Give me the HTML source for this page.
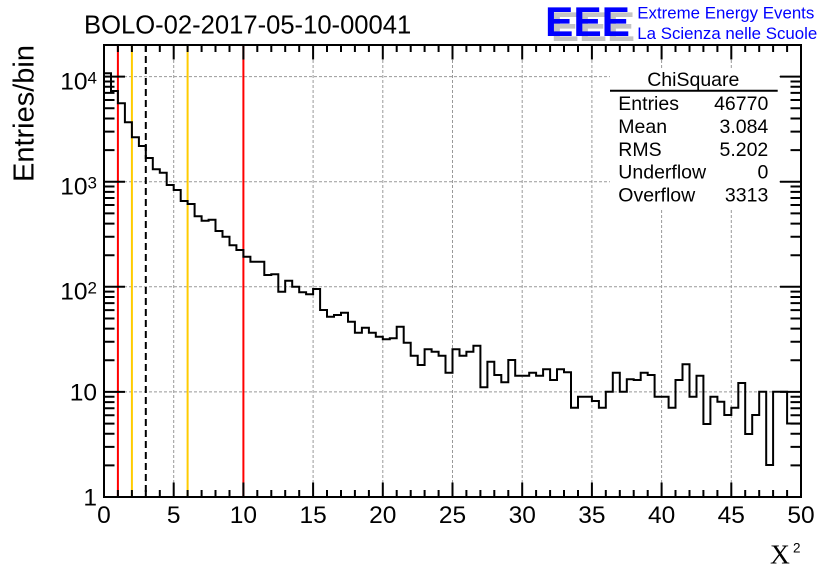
<!DOCTYPE html>
<html><head><meta charset="utf-8"><style>
html,body{margin:0;padding:0;background:#fff;}
svg{display:block;}
text{font-family:"Liberation Sans",Arial,sans-serif;fill:#000;}
</style></head><body>
<svg width="836" height="572" viewBox="0 0 836 572" xmlns="http://www.w3.org/2000/svg">
<rect x="0" y="0" width="836" height="572" fill="#fff"/>

<!-- grid -->
<g stroke="#999" stroke-width="1" stroke-dasharray="3,2" fill="none">
<path d="M173.7 45V497M243.4 45V497M313.1 45V497M382.8 45V497M452.5 45V497M522.2 45V497M591.9 45V497M661.6 45V497M731.3 45V497"/>
<path d="M104 391.9H801M104 286.8H801M104 181.7H801M104 76.6H801"/>
</g>

<!-- stats box background -->
<rect x="610" y="70" width="168" height="140" fill="#fff"/>

<!-- marker lines -->
<g stroke-width="2" fill="none">
<line x1="117.9" y1="45" x2="117.9" y2="497" stroke="#ff0000"/>
<line x1="243.4" y1="45" x2="243.4" y2="497" stroke="#ff0000"/>
<line x1="131.9" y1="45" x2="131.9" y2="497" stroke="#ffcc00"/>
<line x1="187.6" y1="45" x2="187.6" y2="497" stroke="#ffcc00"/>
<line x1="145.8" y1="45" x2="145.8" y2="497" stroke="#000" stroke-dasharray="7,4"/>
</g>

<!-- histogram -->
<path fill="none" stroke="#000" stroke-width="2" d="M104,497 V73.3 H111 V91 H117.9 V103.3 H124.9 V122.3 H131.9 V137.3 H138.9 V146 H145.8 V158 H152.8 V169.3 H159.8 V172.7 H166.7 V185 H173.7 V190 H180.7 V201 H187.6 V204 H194.6 V216.3 H201.6 V220.7 H208.6 V219.7 H215.5 V231 H222.5 V236.7 H229.5 V245.3 H236.4 V250 H243.4 V256.7 H250.4 V261.7 H264.3 V275 H271.3 V274.3 H278.3 V291.7 H285.2 V280.7 H292.2 V286.7 H299.2 V292.3 H306.1 V294.3 H313.1 V289 H320.1 V310 H327 V316.7 H334 V315 H341 V312.7 H348 V321.7 H354.9 V332.7 H361.9 V327.7 H368.9 V332.7 H375.8 V336.7 H382.8 V339.3 H389.8 V338.3 H396.7 V326.7 H403.7 V342.7 H410.7 V355.7 H417.7 V365 H424.6 V349.3 H431.6 V351.7 H438.6 V355.7 H445.5 V372.7 H452.5 V349.3 H459.5 V355.7 H466.4 V351.7 H473.4 V345.7 H480.4 V387.3 H487.4 V361.7 H494.3 V375 H501.3 V382.3 H508.3 V360 H515.2 V375.7 H529.2 V372.7 H536.1 V375.7 H543.1 V369.3 H550.1 V380 H557 V369.3 H564 V372.3 H571 V407.7 H578 V396.7 H591.9 V401 H598.9 V407.7 H605.8 V391.7 H612.8 V372.7 H619.8 V391.7 H626.8 V379.3 H633.7 V380 H640.7 V372.7 H647.7 V375 H654.6 V396.7 H668.6 V407.7 H675.5 V380 H682.5 V364.3 H689.5 V396.7 H696.5 V375.7 H703.4 V424 H710.4 V396.7 H717.4 V401.7 H724.3 V415 H731.3 V407.7 H738.3 V383 H745.2 V434 H752.2 V415 H759.2 V391.7 H766.2 V465 H773.1 V391.7 H787.1 V423.5 H801 V497"/>

<!-- ticks -->
<g stroke="#000" stroke-width="2" fill="none">
<path d="M117.9 497v-7M131.9 497v-7M145.8 497v-7M159.8 497v-7M187.6 497v-7M201.6 497v-7M215.5 497v-7M229.5 497v-7M257.3 497v-7M271.3 497v-7M285.2 497v-7M299.2 497v-7M327 497v-7M341 497v-7M354.9 497v-7M368.9 497v-7M396.7 497v-7M410.7 497v-7M424.6 497v-7M438.6 497v-7M466.4 497v-7M480.4 497v-7M494.3 497v-7M508.3 497v-7M536.1 497v-7M550.1 497v-7M564 497v-7M578 497v-7M605.8 497v-7M619.8 497v-7M633.7 497v-7M647.7 497v-7M675.5 497v-7M689.5 497v-7M703.4 497v-7M717.4 497v-7M745.2 497v-7M759.2 497v-7M773.1 497v-7M787.1 497v-7"/>
<path d="M173.7 497v-14.5M243.4 497v-14.5M313.1 497v-14.5M382.8 497v-14.5M452.5 497v-14.5M522.2 497v-14.5M591.9 497v-14.5M661.6 497v-14.5M731.3 497v-14.5"/>
<path d="M117.9 45v7M131.9 45v7M145.8 45v7M159.8 45v7M187.6 45v7M201.6 45v7M215.5 45v7M229.5 45v7M257.3 45v7M271.3 45v7M285.2 45v7M299.2 45v7M327 45v7M341 45v7M354.9 45v7M368.9 45v7M396.7 45v7M410.7 45v7M424.6 45v7M438.6 45v7M466.4 45v7M480.4 45v7M494.3 45v7M508.3 45v7M536.1 45v7M550.1 45v7M564 45v7M578 45v7M605.8 45v7M619.8 45v7M633.7 45v7M647.7 45v7M675.5 45v7M689.5 45v7M703.4 45v7M717.4 45v7M745.2 45v7M759.2 45v7M773.1 45v7M787.1 45v7"/>
<path d="M173.7 45v14.5M243.4 45v14.5M313.1 45v14.5M382.8 45v14.5M452.5 45v14.5M522.2 45v14.5M591.9 45v14.5M661.6 45v14.5M731.3 45v14.5"/>
<path d="M104 465.4h10.5M104 446.9h10.5M104 433.7h10.5M104 423.6h10.5M104 415.2h10.5M104 408.2h10.5M104 402.1h10.5M104 396.7h10.5M104 360.3h10.5M104 341.8h10.5M104 328.6h10.5M104 318.5h10.5M104 310.1h10.5M104 303.1h10.5M104 297h10.5M104 291.6h10.5M104 255.2h10.5M104 236.7h10.5M104 223.6h10.5M104 213.4h10.5M104 205h10.5M104 198h10.5M104 191.9h10.5M104 186.5h10.5M104 150.1h10.5M104 131.6h10.5M104 118.5h10.5M104 108.3h10.5M104 100h10.5M104 92.9h10.5M104 86.8h10.5M104 81.5h10.5"/>
<path d="M104 391.9h21M104 286.8h21M104 181.7h21M104 76.6h21"/>
<path d="M801 465.4h-10.5M801 446.9h-10.5M801 433.7h-10.5M801 423.6h-10.5M801 415.2h-10.5M801 408.2h-10.5M801 402.1h-10.5M801 396.7h-10.5M801 360.3h-10.5M801 341.8h-10.5M801 328.6h-10.5M801 318.5h-10.5M801 310.1h-10.5M801 303.1h-10.5M801 297h-10.5M801 291.6h-10.5M801 255.2h-10.5M801 236.7h-10.5M801 223.6h-10.5M801 213.4h-10.5M801 205h-10.5M801 198h-10.5M801 191.9h-10.5M801 186.5h-10.5M801 150.1h-10.5M801 131.6h-10.5M801 118.5h-10.5M801 108.3h-10.5M801 100h-10.5M801 92.9h-10.5M801 86.8h-10.5M801 81.5h-10.5"/>
<path d="M801 391.9h-21M801 286.8h-21M801 181.7h-21M801 76.6h-21"/>
</g>

<!-- frame -->
<rect x="104" y="45" width="697" height="452" fill="none" stroke="#000" stroke-width="2"/>

<!-- x labels -->
<g font-size="24.5" text-anchor="middle">
<text x="104" y="523">0</text>
<text x="173.7" y="523">5</text>
<text x="243.4" y="523">10</text>
<text x="313.1" y="523">15</text>
<text x="382.8" y="523">20</text>
<text x="452.5" y="523">25</text>
<text x="522.2" y="523">30</text>
<text x="591.9" y="523">35</text>
<text x="661.6" y="523">40</text>
<text x="731.3" y="523">45</text>
<text x="801" y="523">50</text>
</g>

<!-- y labels -->
<g font-size="24.5" text-anchor="end">
<text x="87.5" y="89.3">10</text>
<text x="87.5" y="194.4">10</text>
<text x="87.5" y="299.5">10</text>
<text x="97" y="400.3">10</text>
<text x="97" y="505.5">1</text>
</g>
<g font-size="17">
<text x="87.5" y="83.3">4</text>
<text x="87.5" y="188.4">3</text>
<text x="87.5" y="293.5">2</text>
</g>

<!-- axis titles -->
<text transform="translate(33.3,45) rotate(-90)" text-anchor="end" font-size="29">Entries/bin</text>
<text x="770" y="563.3" font-size="27.5" style="font-family:'Liberation Serif','Times New Roman',serif;">X</text>
<text x="793" y="552.7" font-size="13.5">2</text>

<!-- title -->
<text x="84" y="33.3" font-size="25.6">BOLO-02-2017-05-10-00041</text>

<!-- EEE logo -->
<text x="551" y="41" font-size="42" font-weight="bold" textLength="84" lengthAdjust="spacingAndGlyphs" style="fill:#c4c4c4;">EEE</text>
<text x="545" y="36" font-size="42" font-weight="bold" textLength="85" lengthAdjust="spacingAndGlyphs" style="fill:#0000ff;">EEE</text>
<text x="637.3" y="18.5" font-size="16.8" textLength="177" lengthAdjust="spacingAndGlyphs" style="fill:#0000ff;">Extreme Energy Events</text>
<text x="637.3" y="39" font-size="16.8" textLength="180" lengthAdjust="spacingAndGlyphs" style="fill:#0000ff;">La Scienza nelle Scuole</text>

<!-- stats -->
<text x="693.3" y="86" font-size="19.5" text-anchor="middle">ChiSquare</text>
<line x1="610" y1="90.7" x2="777.7" y2="90.7" stroke="#000" stroke-width="2"/>
<g font-size="19.5">
<text x="618.3" y="110">Entries</text>
<text x="618.3" y="133">Mean</text>
<text x="618.3" y="156">RMS</text>
<text x="618.3" y="178.7">Underflow</text>
<text x="618.3" y="201.7">Overflow</text>
</g>
<g font-size="19.5" text-anchor="end">
<text x="768.3" y="110">46770</text>
<text x="768.3" y="133">3.084</text>
<text x="768.3" y="156">5.202</text>
<text x="768.3" y="178.7">0</text>
<text x="768.3" y="201.7">3313</text>
</g>
</svg>
</body></html>
